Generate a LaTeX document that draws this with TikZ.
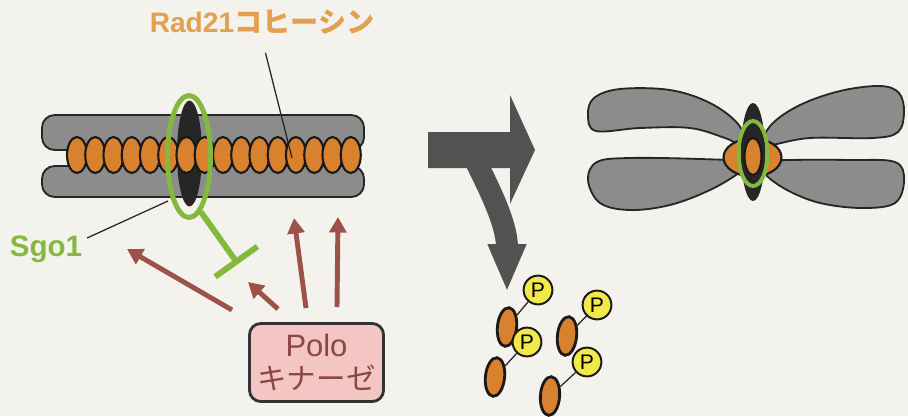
\documentclass[tikz,border=0pt]{standalone}
\usepackage{fontspec}
\setsansfont{Liberation Sans}
\newfontfamily\jpfont{Noto Sans CJK JP}
\usetikzlibrary{arrows.meta, shapes.geometric, positioning}

\definecolor{paper}{HTML}{F3F2ED}
\definecolor{arm}{HTML}{8C8C8C}
\definecolor{bead}{HTML}{D8812F}
\definecolor{sgo}{HTML}{84B93E}
\definecolor{kin}{HTML}{9C5249}
\definecolor{kinbox}{HTML}{F3C5C3}
\definecolor{kintext}{HTML}{8B4742}
\definecolor{radtext}{HTML}{E2A050}
\definecolor{phos}{HTML}{F1E94A}
\definecolor{flow}{HTML}{525252}

\tikzset{
	chromatid/.style={fill=arm, draw=black!85, line width=1.3pt},
	coh/.style={fill=bead, draw=black!90, line width=1.5pt},
	leader/.style={draw=black!85, line width=0.9pt},
	kinase/.style={draw=kin, line width=3.5pt, -{Triangle[width=12pt,length=11pt]}},
	polobox/.style={rectangle, rounded corners=8pt, fill=kinbox, draw=black!80, line width=2pt,
		minimum width=3.35cm, minimum height=1.95cm, align=center, text=kintext,
		font=\sffamily\fontsize{22}{23.4}\selectfont},
	pgroup/.style={circle, fill=phos, draw=black!90, line width=1.4pt, minimum size=0.72cm,
		inner sep=0pt, font=\sffamily\fontsize{15}{15}\selectfont},
	freebead/.style={ellipse, fill=bead, draw=black!90, line width=2pt, minimum width=0.48cm,
		minimum height=0.97cm, inner sep=0pt},
}

\begin{document}
\begin{tikzpicture}[x=0.025cm, y=-0.025cm]
	\useasboundingbox (0,0) rectangle (908,416);
	\fill[paper] (0,0) rectangle (908,416);

	% Left: paired sister chromatids held by cohesin
	\draw[chromatid, rounded corners=9pt] (42,115) rectangle (364,150);
	\draw[chromatid, rounded corners=9pt] (42,166) rectangle (364,197);
	\fill[black!85] (189.5,153.5) ellipse (12.5 and 53);
	\foreach \i in {0,...,15}
		\filldraw[coh] ({77+18.25*\i},155) ellipse (10 and 18);
	\node[ellipse, draw=sgo, line width=3.5pt, minimum width=1.075cm, minimum height=3.05cm] (ringL) at (189,156.5) {};

	% labels and leaders
	\node[text=radtext, font=\sffamily\bfseries\fontsize{20}{24}\selectfont] (rad) at (262,22) {Rad21{\jpfont コヒーシン}};
	\coordinate (radtip) at (292,158);
	\draw[leader, shorten <=10pt] (rad.south) -- (radtip);
	\node[text=sgo, font=\sffamily\bfseries\fontsize{21}{24}\selectfont] (sgo) at (46,249) {Sgo1};
	\coordinate (sgotip) at (168,201);
	\draw[leader] (sgo.15) -- (sgotip);

	% Sgo1 blocks the kinase
	\coordinate (block) at (238,264);
	\draw[sgo, line width=4.2pt, -{Bar[width=37pt]}] (ringL.-78) -- (block);

	% Polo kinase and its targets
	\node[polobox] (polo) at (316.5,362.5) {Polo\\{\jpfont\fontsize{21}{23.4}\selectfont キナーゼ}};
	\coordinate (srcA) at (232,310);
	\coordinate (tgtA) at (127,249);
	\coordinate (srcB) at (278,309);
	\coordinate (tgtB) at (248,282);
	\coordinate (srcC) at (306,308);
	\coordinate (tgtC) at (294,218);
	\coordinate (srcD) at (337,307);
	\coordinate (tgtD) at (338,217);
	\draw[kinase] (srcA) -- (tgtA);
	\draw[kinase] (srcB) -- (tgtB);
	\draw[kinase] (srcC) -- (tgtC);
	\draw[kinase] (srcD) -- (tgtD);

	% Big arrows: on to metaphase, and cohesin released below
	\fill[flow] (428,132) -- (510,132) -- (510,95) -- (535,150) -- (510,204) -- (510,168) -- (428,168) -- cycle;
	\draw[flow, line width=15.6pt, -{Triangle[width=25pt,length=34pt]}]
		(470,150) .. controls (486,182) and (507,222) .. (507,292);

	% Right: chromosome held only at the centromere
	\draw[chromatid] plot[smooth cycle, tension=0.6] coordinates
		{(745,146) (738,124) (710,103) (670,90) (620,89) (594,98) (588,115) (596,131) (640,128) (690,128) (725,138)};
	\draw[chromatid] plot[smooth cycle, tension=0.6] coordinates
		{(745,162) (700,159) (630,158) (597,162) (588,180) (600,203) (630,210) (670,205) (710,190) (740,172)};
	\draw[chromatid] plot[smooth cycle, tension=0.6] coordinates
		{(760,146) (772,124) (800,105) (840,91) (880,86) (899,93) (904,112) (898,132) (873,138) (810,138) (772,145)};
	\draw[chromatid] plot[smooth cycle, tension=0.6] coordinates
		{(762,162) (790,160) (850,160) (895,162) (904,180) (895,203) (862,208) (820,203) (787,190) (765,174)};
	\filldraw[coh] (752.5,157.5) ellipse (29 and 19);
	\fill[black!85] (753,152) ellipse (12 and 49);
	\filldraw[coh] (753,156.5) ellipse (8.5 and 18.5);
	\draw[sgo, line width=2.8pt] (753,153.5) ellipse (14.5 and 32.5);

	% Phosphorylated cohesin fragments
	\node[freebead, rotate=-6] (b1) at (507,327) {};
	\node[pgroup] (p1) at (538,290) {P};
	\node[freebead, rotate=-6] (b2) at (495,377) {};
	\node[pgroup] (p2) at (527,342) {P};
	\node[freebead, rotate=-6] (b3) at (567,336) {};
	\node[pgroup] (p3) at (597,305) {P};
	\node[freebead, rotate=-4] (b4) at (550,396) {};
	\node[pgroup] (p4) at (587,362) {P};
	\draw[leader] (b1) -- (p1);
	\draw[leader] (p2) -- (b2);
	\draw[leader] (b3) -- (p3);
	\draw[leader] (p4) -- (b4);
\end{tikzpicture}
\end{document}
